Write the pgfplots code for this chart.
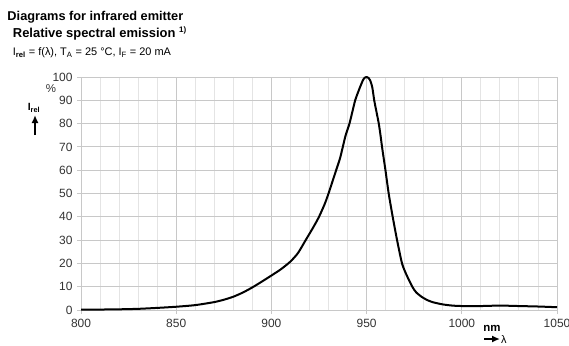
\documentclass[border=0pt]{standalone}
\usepackage{fontspec}
\setmainfont{Liberation Sans}
\usepackage{pgfplots}
\pgfplotsset{compat=1.18}
\usetikzlibrary{arrows.meta}
\definecolor{labgray}{HTML}{333333}
\definecolor{majgrid}{HTML}{C8C8C8}
\definecolor{mingrid}{HTML}{E4E4E4}
\begin{document}
\begin{tikzpicture}[x=1bp,y=1bp]
\path[use as bounding box] (0,0) rectangle (569,345);
\begin{axis}[
  at={(81bp,35bp)}, anchor=south west,
  scale only axis, width=476bp, height=233bp,
  xmin=800, xmax=1050, ymin=0, ymax=100,
  xtick={800,850,900,950,1000,1050},
  minor xtick={810,820,830,840,860,870,880,890,910,920,930,940,960,970,980,990,1010,1020,1030,1040},
  ytick={0,10,...,100},
  xmajorgrids, xminorgrids, ymajorgrids,
  major x grid style={majgrid, line width=0.9bp},
  minor x grid style={mingrid, line width=0.9bp},
  major y grid style={majgrid, line width=0.9bp},
  axis line style={majgrid, line width=0.9bp},
  tick align=outside, major tick length=4bp, minor tick length=0pt,
  tick style={majgrid, line width=0.9bp},
  xtick pos=bottom, ytick pos=left,
  /pgf/number format/assume math mode=true,
  /pgf/number format/1000 sep={},
  tick label style={font=\fontsize{12}{14}\selectfont, text=labgray},
  xticklabel style={yshift=-2bp},
  yticklabel style={xshift=-1bp},
]
\addplot[black, line width=2bp, smooth, tension=0.4] coordinates {
(800,0.2) (810,0.2) (820,0.3) (830,0.5) (840,0.9) (850,1.4) (860,2.1)
(870,3.4) (875,4.4) (880,5.7) (885,7.5) (890,9.7) (895,12.2) (900,14.8)
(905,17.5) (910,20.8) (914,24.5) (918,30) (922,35.5) (925,40) (928,45.5)
(930,50) (932,55) (934,60) (936,65) (937.5,70) (939,75) (941,80)
(942.5,85) (944,90) (946,94.5) (948,98.5) (949,99.7) (950,100) (951,99.6)
(952,98.3) (953,95.5) (954,90) (955.2,85) (956.4,80) (957.3,75) (958.1,70)
(959,65) (959.9,60) (961.6,50) (963.7,40) (966,30) (968.6,20) (971,15)
(974,10) (976,7.6) (979,5.6) (982,4.2) (985,3.3) (990,2.4) (995,1.9)
(1000,1.7) (1010,1.7) (1020,1.9) (1030,1.7) (1040,1.5) (1050,1.2)
};
\end{axis}
\node[anchor=base west, inner sep=0] at (7.3,325) {\fontsize{12.8}{15}\selectfont\bfseries Diagrams for infrared emitter};
\node[anchor=base west, inner sep=0] at (12.7,308) {\fontsize{13}{15}\selectfont\bfseries Relative spectral emission \raisebox{5bp}{\fontsize{8}{9}\selectfont 1)}};
\node[anchor=base west, inner sep=0] at (12.7,289.5) {\fontsize{11}{13}\selectfont I\textsubscript{\bfseries rel} = f(λ), T\textsubscript{A} = 25 °C, I\textsubscript{F} = 20 mA};
\node[inner sep=0, text=labgray] at (51,256) {\fontsize{11.5}{13}\selectfont \%};
\node[inner sep=0] at (34,237) {\fontsize{10.5}{12}\selectfont\bfseries I\textsubscript{rel}};
\draw[-{Latex[length=8bp,width=7bp]}, line width=2.2bp] (35,210) -- (35,230);
\node[inner sep=0] at (492,17) {\fontsize{11.5}{13}\selectfont\bfseries nm};
\draw[-{Latex[length=8bp,width=7bp]}, line width=2.2bp] (484,6) -- (500,6);
\node[inner sep=0, anchor=west] at (501,5.5) {\fontsize{11}{12}\selectfont λ};
\end{tikzpicture}
\end{document}
